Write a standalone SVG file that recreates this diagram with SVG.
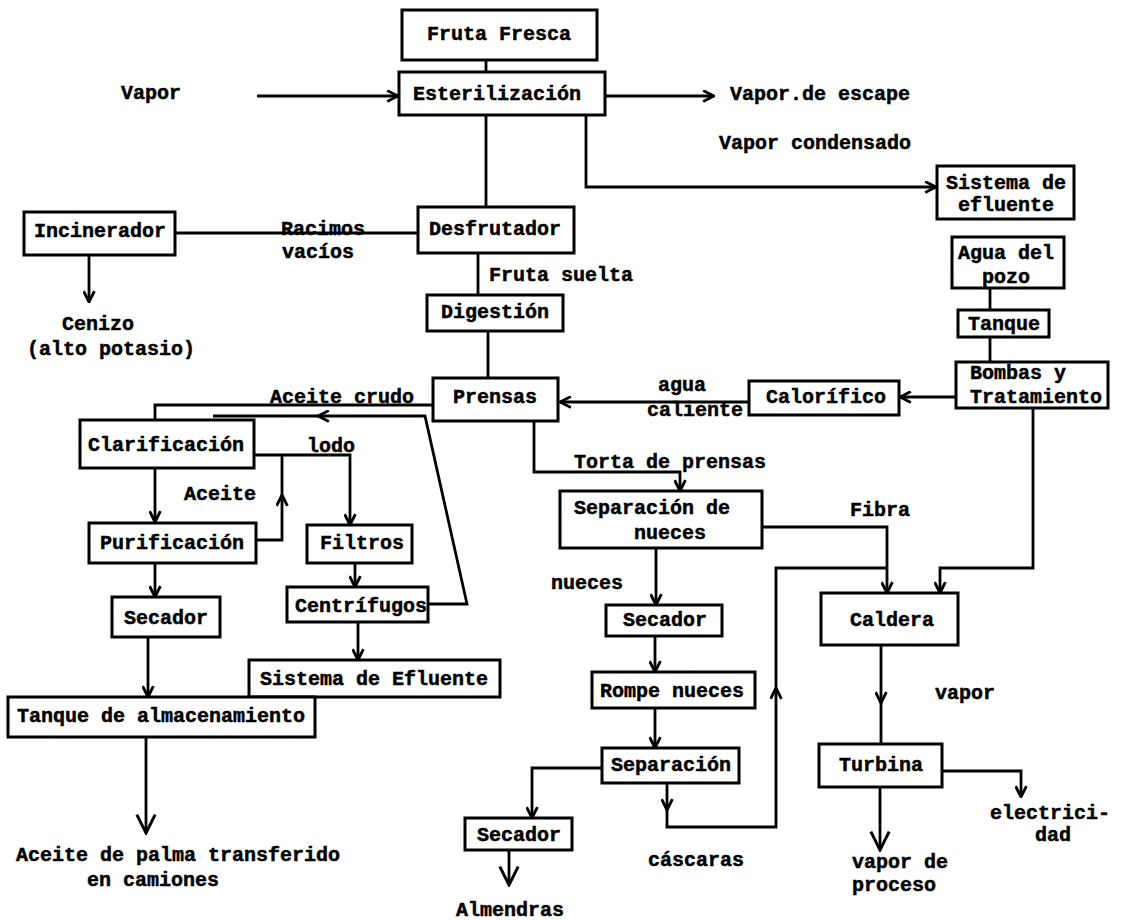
<svg xmlns="http://www.w3.org/2000/svg" width="1121" height="920" viewBox="0 0 1121 920">
<defs>
<style>
.box{fill:#fff;stroke:#000;stroke-width:3}
.t{font-family:"Liberation Mono","DejaVu Sans Mono",monospace;font-weight:bold;font-size:20px;fill:#000;stroke:#000;stroke-width:0.5;text-anchor:middle;dominant-baseline:central}
.tl{text-anchor:start}
.c{fill:none;stroke:#000;stroke-width:2.8;stroke-linejoin:miter}
</style>
<marker id="arr" viewBox="0 0 12 12" refX="11" refY="6" markerWidth="13" markerHeight="13" markerUnits="userSpaceOnUse" orient="auto">
<path d="M1,1 L11,6 L1,11" fill="none" stroke="#000" stroke-width="2.6"/>
</marker>
<marker id="arrBig" viewBox="0 0 12 12" refX="11" refY="6" markerWidth="22" markerHeight="22" markerUnits="userSpaceOnUse" orient="auto">
<path d="M1,1 L11,6 L1,11" fill="none" stroke="#000" stroke-width="1.6"/>
</marker>
</defs>
<rect width="1121" height="920" fill="#fff"/>

<g id="connectors">
<path class="c" d="M486,60 V72"/>
<path class="c" d="M257,96 H398" marker-end="url(#arr)"/>
<path class="c" d="M606,96 H714" marker-end="url(#arr)"/>
<path class="c" d="M586,115 V187 H936" marker-end="url(#arr)"/>
<path class="c" d="M486,115 V207"/>
<path class="c" d="M175,233 H418"/>
<path class="c" d="M89,255 V302" marker-end="url(#arr)"/>
<path class="c" d="M478,253 V295"/>
<path class="c" d="M488,331 V378"/>
<path class="c" d="M433,405 H155 V420"/>
<path class="c" d="M428,604 H467 L425,416 H318" marker-end="url(#arr)"/>
<path class="c" d="M322,416 H213"/>
<path class="c" d="M254,455 H350 V525" marker-end="url(#arr)"/>
<path class="c" d="M256,540 H282 V495" marker-end="url(#arr)"/>
<path class="c" d="M282,498 V455"/>
<path class="c" d="M155,468 V522" marker-end="url(#arr)"/>
<path class="c" d="M155,563 V597" marker-end="url(#arr)"/>
<path class="c" d="M355,563 V587" marker-end="url(#arr)"/>
<path class="c" d="M358,622 V660" marker-end="url(#arr)"/>
<path class="c" d="M148,637 V697" marker-end="url(#arr)"/>
<path class="c" d="M146,737 V833" marker-end="url(#arrBig)"/>
<path class="c" d="M990,288 V310"/>
<path class="c" d="M990,337 V362"/>
<path class="c" d="M956,397 H900" marker-end="url(#arr)"/>
<path class="c" d="M749,402 H560" marker-end="url(#arr)"/>
<path class="c" d="M534,421 V472 H680 V491" marker-end="url(#arr)"/>
<path class="c" d="M762,527 H887 V593" marker-end="url(#arr)"/>
<path class="c" d="M1033,408 V568 H940 V593" marker-end="url(#arr)"/>
<path class="c" d="M656,548 V605" marker-end="url(#arr)"/>
<path class="c" d="M655,636 V672" marker-end="url(#arr)"/>
<path class="c" d="M655,708 V748" marker-end="url(#arr)"/>
<path class="c" d="M602,768 H532 V818" marker-end="url(#arr)"/>
<path class="c" d="M509,850 V885" marker-end="url(#arrBig)"/>
<path class="c" d="M667,783 V810" marker-end="url(#arr)"/>
<path class="c" d="M667,806 V827 H776 V688" marker-end="url(#arr)"/>
<path class="c" d="M776,692 V568 H887"/>
<path class="c" d="M881,645 V703" marker-end="url(#arr)"/>
<path class="c" d="M881,700 V744"/>
<path class="c" d="M880,787 V850" marker-end="url(#arrBig)"/>
<path class="c" d="M942,771 H1021 V797" marker-end="url(#arr)"/>
</g>

<g id="fruta-fresca"><rect class="box" x="402" y="10" width="195" height="50"/><text class="t" x="499" y="34">Fruta Fresca</text></g>
<g id="esterilizacion"><rect class="box" x="399" y="72" width="206" height="43"/><text class="t" x="497" y="94">Esterilización</text></g>
<g id="desfrutador"><rect class="box" x="418" y="207" width="156" height="46"/><text class="t" x="495" y="229">Desfrutador</text></g>
<g id="incinerador"><rect class="box" x="24" y="212" width="151" height="43"/><text class="t" x="100" y="231">Incinerador</text></g>
<g id="digestion"><rect class="box" x="427" y="295" width="136" height="36"/><text class="t" x="495" y="312">Digestión</text></g>
<g id="prensas"><rect class="box" x="433" y="378" width="125" height="43"/><text class="t" x="495" y="397">Prensas</text></g>
<g id="clarificacion"><rect class="box" x="80" y="420" width="174" height="48"/><text class="t" x="166" y="445">Clarificación</text></g>
<g id="purificacion"><rect class="box" x="89" y="523" width="167" height="40"/><text class="t" x="172" y="543">Purificación</text></g>
<g id="filtros"><rect class="box" x="307" y="525" width="105" height="38"/><text class="t" x="362" y="543">Filtros</text></g>
<g id="centrifugos"><rect class="box" x="287" y="587" width="141" height="35"/><text class="t" x="361" y="606">Centrífugos</text></g>
<g id="secador-aceite"><rect class="box" x="112" y="597" width="108" height="40"/><text class="t" x="166" y="618">Secador</text></g>
<g id="sistema-efluente-2"><rect class="box" x="249" y="660" width="251" height="37"/><text class="t" x="374" y="679">Sistema de Efluente</text></g>
<g id="tanque-almacenamiento"><rect class="box" x="8" y="697" width="307" height="40"/><text class="t" x="161" y="716">Tanque de almacenamiento</text></g>
<g id="sistema-efluente-1"><rect class="box" x="937" y="166" width="137" height="53"/><text class="t" x="1006" y="183">Sistema de</text><text class="t" x="1006" y="205">efluente</text></g>
<g id="agua-pozo"><rect class="box" x="952" y="237" width="112" height="51"/><text class="t" x="1006" y="253">Agua del</text><text class="t" x="1006" y="277">pozo</text></g>
<g id="tanque"><rect class="box" x="958" y="310" width="91" height="27"/><text class="t" x="1004" y="324">Tanque</text></g>
<g id="bombas"><rect class="box" x="956" y="362" width="152" height="46"/><text class="t tl" x="970" y="373">Bombas y</text><text class="t tl" x="970" y="397">Tratamiento</text></g>
<g id="calorifico"><rect class="box" x="749" y="381" width="150" height="34"/><text class="t" x="826" y="397">Calorífico</text></g>
<g id="separacion-nueces"><rect class="box" x="560" y="491" width="202" height="57"/><text class="t" x="652" y="508">Separación de</text><text class="t" x="670" y="533">nueces</text></g>
<g id="secador-nueces"><rect class="box" x="606" y="605" width="116" height="31"/><text class="t" x="665" y="620">Secador</text></g>
<g id="rompe-nueces"><rect class="box" x="592" y="672" width="163" height="36"/><text class="t" x="672" y="691">Rompe nueces</text></g>
<g id="separacion"><rect class="box" x="602" y="748" width="137" height="35"/><text class="t" x="671" y="765">Separación</text></g>
<g id="secador-almendras"><rect class="box" x="465" y="818" width="107" height="32"/><text class="t" x="519" y="835">Secador</text></g>
<g id="caldera"><rect class="box" x="821" y="593" width="137" height="52"/><text class="t" x="892" y="620">Caldera</text></g>
<g id="turbina"><rect class="box" x="819" y="744" width="123" height="43"/><text class="t" x="881" y="765">Turbina</text></g>

<g id="labels">
<text class="t" x="151" y="93">Vapor</text>
<text class="t" x="820" y="94">Vapor.de escape</text>
<text class="t" x="815" y="143">Vapor condensado</text>
<text class="t" x="323" y="229">Racimos</text>
<text class="t" x="318" y="252">vacíos</text>
<text class="t" x="98" y="324">Cenizo</text>
<text class="t" x="111" y="349">(alto potasio)</text>
<text class="t" x="561" y="275">Fruta suelta</text>
<text class="t" x="342" y="397">Aceite crudo</text>
<text class="t" x="331" y="446">lodo</text>
<text class="t" x="220" y="494">Aceite</text>
<text class="t" x="682" y="385">agua</text>
<text class="t" x="695" y="410">caliente</text>
<text class="t" x="670" y="462">Torta de prensas</text>
<text class="t" x="880" y="510">Fibra</text>
<text class="t" x="587" y="583">nueces</text>
<text class="t" x="965" y="693">vapor</text>
<text class="t" x="696" y="860">cáscaras</text>
<text class="t" x="510" y="910">Almendras</text>
<text class="t" x="900" y="862">vapor de</text>
<text class="t" x="894" y="885">proceso</text>
<text class="t" x="1050" y="813">electrici-</text>
<text class="t" x="1053" y="835">dad</text>
<text class="t" x="178" y="855">Aceite de palma transferido</text>
<text class="t" x="153" y="880">en camiones</text>
</g>
</svg>
